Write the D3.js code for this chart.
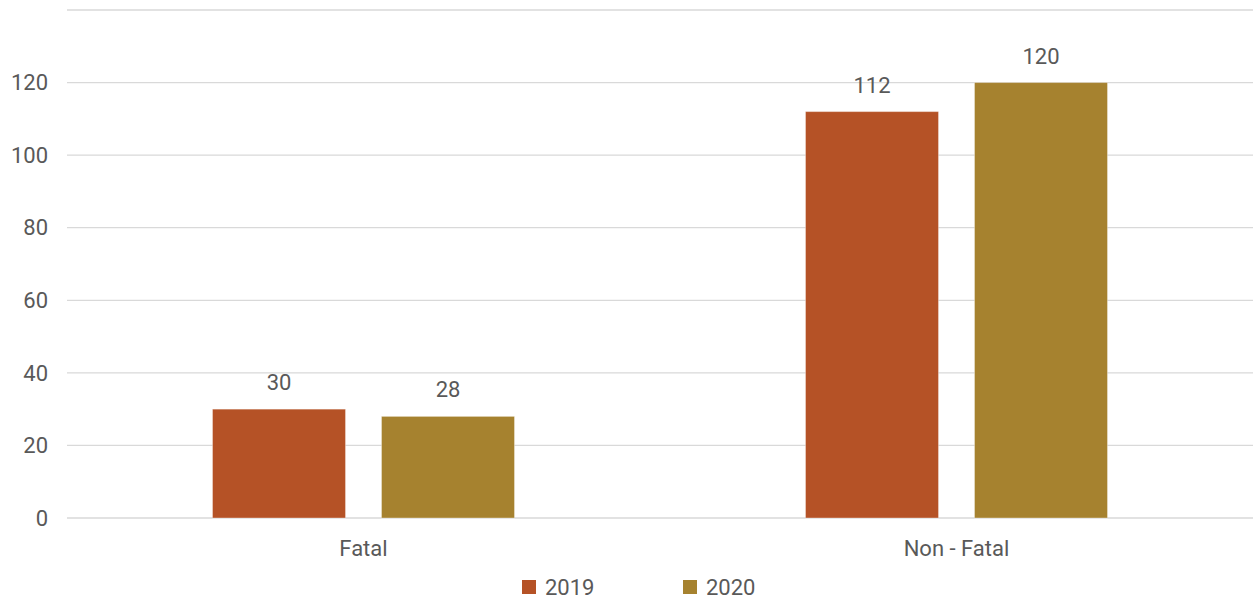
<!DOCTYPE html>
<html><head><meta charset="utf-8">
<script src="https://cdn.jsdelivr.net/npm/d3@7"></script>
<style>body{margin:0;background:#fff}svg{display:block}text{font-family:Roboto,sans-serif;fill:#595959}</style>
</head><body><svg id="c" width="1253" height="601"></svg>
<script>
const categories = ["Fatal", "Non - Fatal"];
const seriesNames = ["2019", "2020"];
const values2019 = [30, 112];
const values2020 = [28, 120];
const yTicks = [0, 20, 40, 60, 80, 100, 120, 140];
const colors = ["#B55226", "#A6822F"];

const svg = d3.select("#c");
const m = {l:67, r:0, t:10, b:83};
const W = 1253, H = 601;
const FS = 22;
const x = d3.scaleBand().domain(categories).range([m.l, W - m.r]);
const y = d3.scaleLinear().domain([0, 140]).range([H - m.b, m.t]);
const x1 = d3.scaleBand().domain(seriesNames).range([0, x.bandwidth()]).paddingInner(0.213).paddingOuter(0.861);

svg.append("g").selectAll("line").data(yTicks).join("line")
  .attr("x1", m.l).attr("x2", W).attr("y1", d => y(d)).attr("y2", d => y(d))
  .attr("stroke", "#d9d9d9").attr("stroke-width", 1.3);

svg.append("g").selectAll("text").data(yTicks.filter(d => d < 140)).join("text")
  .attr("x", 48).attr("y", d => y(d)).attr("dy", "0.35em").attr("text-anchor", "end")
  .attr("font-size", FS).text(d => d);

const series = [values2019, values2020];
const data = [];
categories.forEach((c, i) => seriesNames.forEach((s, j) => data.push({c, s, v: series[j][i], j})));

svg.append("g").selectAll("rect").data(data).join("rect")
  .attr("x", d => x(d.c) + x1(d.s)).attr("width", x1.bandwidth())
  .attr("y", d => y(d.v)).attr("height", d => y(0) - y(d.v))
  .attr("fill", d => colors[d.j]).attr("stroke", "#fff").attr("stroke-opacity", 0.35).attr("stroke-width", 1);

svg.append("g").selectAll("text").data(data).join("text")
  .attr("x", d => x(d.c) + x1(d.s) + x1.bandwidth()/2).attr("y", d => y(d.v) - 19)
  .attr("text-anchor", "middle").attr("font-size", FS).text(d => d.v);

svg.append("g").selectAll("text").data(categories).join("text")
  .attr("x", d => x(d) + x.bandwidth()/2).attr("y", y(0) + 38)
  .attr("text-anchor", "middle").attr("font-size", FS).text(d => d);

const lg = svg.append("g").selectAll("g").data(seriesNames).join("g")
  .attr("transform", (d, i) => `translate(${522 + i*161},580)`);
lg.append("rect").attr("width", 14).attr("height", 14).attr("fill", (d, i) => colors[i]);
lg.append("text").attr("x", 23).attr("y", 7).attr("dy", "0.35em").attr("font-size", FS).text(d => d);
</script></body></html>
